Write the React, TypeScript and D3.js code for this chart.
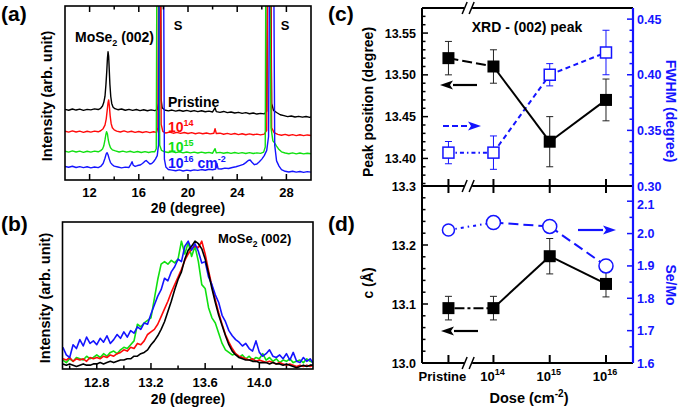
import React from "react";
import * as d3 from "d3";

const FONT = "'Liberation Sans', Arial, Helvetica, sans-serif";
const BLUE = "#1414ff";
const RED = "#ff0a0a";
const GREEN = "#10e010";
const BLACK = "#000";

// ---------- Panel (a): XRD spectra, [2theta, stacked intensity] ----------
const aMajorTicks = [12, 16, 20, 24, 28];
const aMinorTicks = [14, 18, 22, 26];

const specPristine: [number, number][] = [[10,40.6],[10.3,40.1],[10.6,40.8],[10.9,40.2],[11.2,40.7],[11.5,40.0],[11.8,40.6],[12.1,40.3],[12.4,40.9],[12.7,40.5],[12.9,41.2],[13.05,42.5],[13.15,44.5],[13.25,48],[13.33,55],[13.4,63],[13.45,70],[13.5,73.7],[13.55,71],[13.6,63],[13.65,55],[13.72,48],[13.8,44],[13.9,42],[14.05,41],[14.3,40.4],[14.6,40.8],[14.9,40.1],[15.2,40.6],[15.5,40.0],[15.8,40.5],[16.1,39.9],[16.4,40.4],[16.7,39.8],[17.0,40.3],[17.3,39.9],[17.5,40.5],[17.6,44],[17.65,150],[17.75,150],[17.82,46],[17.9,41.5],[18.1,40.2],[18.4,39.7],[18.7,40.2],[19.0,39.6],[19.3,40.1],[19.6,39.5],[19.9,40.0],[20.2,39.4],[20.5,39.9],[20.8,39.3],[21.1,39.8],[21.4,39.2],[21.7,39.6],[22.0,39.1],[22.2,41.5],[22.3,39.3],[22.6,38.9],[22.9,39.4],[23.2,38.7],[23.5,39.1],[23.8,38.5],[24.1,38.9],[24.4,38.3],[24.7,38.7],[25.0,38.1],[25.3,38.5],[25.6,37.9],[25.9,38.3],[26.2,38.0],[26.4,39.5],[26.5,150],[26.7,150],[26.8,44],[26.95,40],[27.2,38.8],[27.5,37.5],[27.8,37.0],[28.1,36.4],[28.4,36.8],[28.7,36.2],[29.0,36.6],[29.3,36.1],[29.6,36.5],[29.9,36.0],[30,36.3]];

const spec1e14: [number, number][] = [[10,28.0],[10.3,27.5],[10.6,28.2],[10.9,27.6],[11.2,28.1],[11.5,27.4],[11.8,28.0],[12.1,27.5],[12.4,28.1],[12.7,27.7],[12.9,28.3],[13.1,29.5],[13.25,31.5],[13.35,35],[13.43,40],[13.5,44.5],[13.55,46],[13.6,43],[13.67,37],[13.75,32.5],[13.85,30],[14.0,28.8],[14.2,28.1],[14.5,27.6],[14.8,28.2],[15.1,27.5],[15.4,28.0],[15.7,27.4],[16.0,27.9],[16.3,27.3],[16.6,27.8],[16.9,27.2],[17.2,27.7],[17.45,27.4],[17.55,30],[17.62,150],[17.75,150],[17.82,32],[17.95,28],[18.2,27.0],[18.5,27.5],[18.8,26.9],[19.1,27.4],[19.4,26.8],[19.7,27.3],[20.0,26.7],[20.3,27.2],[20.6,26.6],[20.9,27.1],[21.2,26.6],[21.5,27.0],[21.8,26.5],[22.1,26.9],[22.2,29.5],[22.3,26.7],[22.6,26.9],[22.9,26.3],[23.2,26.8],[23.5,26.2],[23.8,26.7],[24.1,26.1],[24.4,26.6],[24.7,26.0],[25.0,26.5],[25.3,26.0],[25.6,26.4],[25.9,25.9],[26.2,26.4],[26.4,28.5],[26.5,150],[26.7,150],[26.8,30],[27.0,27.2],[27.3,26.2],[27.6,25.7],[27.9,26.2],[28.2,25.6],[28.5,26.1],[28.8,25.5],[29.1,26.0],[29.4,25.5],[29.7,25.9],[30,25.6]];

const spec1e15: [number, number][] = [[10,16.5],[10.3,16.0],[10.6,16.7],[10.9,16.1],[11.2,16.6],[11.5,15.9],[11.8,16.5],[12.1,16.0],[12.4,16.6],[12.7,16.2],[12.9,16.9],[13.05,17.8],[13.15,19.5],[13.25,23],[13.32,26],[13.38,27.8],[13.45,26.5],[13.52,23],[13.6,20.5],[13.7,18.5],[13.85,17.3],[14.1,16.7],[14.4,16.1],[14.7,16.6],[15.0,16.0],[15.3,16.5],[15.6,15.9],[15.9,16.4],[16.2,15.8],[16.5,16.3],[16.8,15.8],[17.1,16.3],[17.3,16.2],[17.42,18],[17.48,150],[17.6,150],[17.7,20],[17.85,17],[18.1,16.2],[18.4,15.8],[18.7,16.3],[19.0,15.7],[19.3,16.2],[19.6,15.6],[19.9,16.1],[20.2,15.6],[20.5,16.0],[20.8,15.5],[21.1,16.0],[21.4,15.5],[21.7,15.9],[22.0,15.4],[22.2,18.0],[22.3,15.6],[22.6,15.9],[22.9,15.4],[23.2,15.8],[23.5,15.3],[23.8,15.8],[24.1,15.3],[24.4,15.7],[24.7,15.2],[25.0,15.7],[25.3,15.2],[25.6,15.6],[25.9,15.3],[26.15,16.0],[26.28,19],[26.34,150],[26.6,150],[26.75,30],[26.9,22.5],[27.05,21.2],[27.2,19.5],[27.4,17.5],[27.6,16.2],[27.9,15.5],[28.2,15.1],[28.5,15.6],[28.8,15.0],[29.1,15.5],[29.4,15.0],[29.7,15.4],[30,15.1]];

const spec1e16: [number, number][] = [[10,7.8],[10.3,7.3],[10.6,7.9],[10.9,7.2],[11.2,7.7],[11.5,7.1],[11.8,7.6],[12.1,7.0],[12.4,7.5],[12.7,7.1],[12.9,7.8],[13.1,9.5],[13.25,12.5],[13.35,15],[13.42,15.7],[13.5,14.5],[13.6,12],[13.7,10],[13.85,8.8],[14.0,8.0],[14.3,7.5],[14.6,7.0],[14.9,7.4],[15.2,7.2],[15.35,9],[15.45,10.5],[15.55,8.5],[15.7,7.8],[15.9,8.3],[16.1,8.6],[16.3,9.5],[16.5,10.8],[16.6,11.2],[16.75,10.2],[16.9,9.2],[17.05,9.5],[17.2,10.5],[17.35,12],[17.5,14],[17.6,20],[17.67,150],[18.0,150],[18.08,12],[18.2,7.5],[18.4,6.0],[18.7,5.7],[19.0,5.3],[19.3,5.8],[19.6,5.2],[19.9,5.7],[20.2,5.3],[20.5,5.8],[20.8,5.5],[21.1,6.0],[21.4,5.6],[21.7,6.2],[22.0,5.9],[22.25,6.3],[22.35,9.5],[22.45,6.4],[22.7,6.3],[23.0,6.8],[23.3,6.6],[23.6,7.2],[23.9,7.6],[24.2,8.3],[24.5,9.0],[24.7,10.0],[24.9,11.2],[25.05,11.5],[25.2,10.2],[25.4,8.8],[25.6,9.2],[25.8,10.5],[26.0,12],[26.2,14],[26.4,17],[26.55,25],[26.65,150],[26.95,150],[27.05,20],[27.2,11],[27.4,8],[27.6,6],[27.9,5.0],[28.2,4.6],[28.5,5.0],[28.8,4.5],[29.1,4.9],[29.4,4.4],[29.7,4.8],[30,4.5]];

// ---------- Panel (b): normalized (002) peak, 2theta grid 12.55 + 0.025 i ----------
const bStart = 12.55;
const bStep = 0.025;
const bMajorTicks = [12.8, 13.2, 13.6, 14.0];
const bMinorTicks = [12.6, 13.0, 13.4, 13.8, 14.2];
const bBlack = [0.04,0.03,0.04,0.03,0.02,0.03,0.04,0.03,0.03,0.04, 0.04,0.05,0.04,0.05,0.06,0.05,0.06,0.07,0.07,0.08, 0.08,0.10,0.10,0.12,0.13,0.15,0.19,0.22,0.26,0.31, 0.37,0.45,0.53,0.62,0.70,0.76,0.86,0.93,0.96,1.0, 0.98,0.94,0.86,0.75,0.63,0.52,0.42,0.34,0.26,0.19, 0.14,0.11,0.09,0.08,0.07,0.07,0.06,0.06,0.05,0.05, 0.05,0.04,0.05,0.04,0.04,0.03,0.04,0.03,0.02,0.01, 0.02,0.03,0.02,0.03,0.03];
const bRed = [0.08,0.07,0.09,0.06,0.08,0.07,0.08,0.06,0.09,0.08, 0.09,0.08,0.10,0.09,0.11,0.10,0.12,0.13,0.15,0.14, 0.17,0.16,0.20,0.19,0.22,0.27,0.29,0.31,0.35,0.41, 0.47,0.53,0.60,0.66,0.72,0.78,0.85,0.90,0.94,0.96, 0.95,1.0,0.90,0.77,0.65,0.54,0.44,0.35,0.27,0.21, 0.16,0.12,0.10,0.09,0.08,0.07,0.08,0.06,0.07,0.06, 0.05,0.06,0.05,0.04,0.05,0.04,0.03,0.04,0.03,0.02, 0.03,0.02,0.03,0.02,0.03];
const bGreen = [0.07,0.05,0.08,0.06,0.09,0.08,0.07,0.10,0.08,0.09, 0.11,0.09,0.12,0.10,0.13,0.14,0.12,0.15,0.17,0.16, 0.19,0.22,0.35,0.33,0.36,0.38,0.40,0.55,0.70,0.82, 0.84,0.82,0.85,0.83,0.86,1.0,0.90,0.99,0.88,0.96, 0.84,0.66,0.63,0.48,0.40,0.36,0.28,0.20,0.15,0.13, 0.11,0.12,0.09,0.11,0.08,0.10,0.07,0.09,0.08,0.12, 0.07,0.09,0.06,0.08,0.05,0.07,0.06,0.08,0.05,0.06, 0.07,0.05,0.08,0.06,0.05];
const bBlue = [0.17,0.11,0.09,0.19,0.16,0.23,0.18,0.25,0.20,0.22, 0.19,0.24,0.21,0.26,0.20,0.23,0.27,0.24,0.29,0.25, 0.30,0.28,0.33,0.31,0.36,0.35,0.43,0.50,0.57,0.62, 0.71,0.69,0.76,0.80,0.86,0.84,0.96,1.0,0.93,0.98, 0.92,0.83,0.84,0.72,0.66,0.58,0.52,0.42,0.37,0.30, 0.26,0.23,0.21,0.18,0.20,0.16,0.14,0.22,0.13,0.10, 0.12,0.15,0.10,0.09,0.11,0.08,0.12,0.07,0.13,0.06, 0.05,0.09,0.06,0.08,0.04];

// ---------- Panels (c), (d): dose dependence ----------
const doseLabels = ["Pristine", "14", "15", "16"]; // exponents for 10^x
const dosePos = [13.2, 14, 15, 16]; // log10(dose) axis position (Pristine placed before the break)
const peakPos = [13.52, 13.51, 13.42, 13.47];
const peakPosErr = [0.02, 0.02, 0.03, 0.025];
const fwhm = [0.33, 0.33, 0.40, 0.42];
const fwhmErr = [0.01, 0.015, 0.01, 0.02];
const cLattice = [13.093, 13.093, 13.181, 13.134];
const cLatticeErr = [0.02, 0.02, 0.03, 0.022];
const seMo = [2.011, 2.034, 2.022, 1.9];
const seMoErr = [0.012, 0.005, 0.005, 0.02];

const cLeftMajor = [13.40, 13.45, 13.50, 13.55];
const cRightMajor = [0.30, 0.35, 0.40, 0.45];
const dLeftMajor = [13.0, 13.1, 13.2, 13.3];
const dRightMajor = [1.6, 1.7, 1.8, 1.9, 2.0, 2.1];

// ---------- scales ----------
const axA = d3.scaleLinear().domain([10, 30]).range([65, 311]);
const ayA = d3.scaleLinear().domain([0, 100]).range([180, 6]);
const bx = d3.scaleLinear().domain([12.547, 14.396]).range([62.5, 313]);
const by = d3.scaleLinear().domain([0, 1.15]).range([369, 222]);
const dx = d3.scaleLinear().domain([12.73, 16.48]).range([422, 633]);
const cyL = d3.scaleLinear().domain([13.367, 13.58]).range([186, 8]);
const cyR = d3.scaleLinear().domain([0.30, 0.46]).range([186, 8]);
const dyL = d3.scaleLinear().domain([13.0, 13.3]).range([363, 186]);
const dyR = d3.scaleLinear().domain([1.6, 2.147]).range([363, 186]);

const lineA = d3.line<[number, number]>().x(d => axA(d[0])).y(d => ayA(d[1]));
const lineB = d3.line<number>().x((_, i) => bx(bStart + bStep * i)).y(d => by(d));

const bold = { fontFamily: FONT, fontWeight: 700 } as const;

function Break({ x, y }: { x: number; y: number }) {
  return (
    <g>
      <rect x={x - 4} y={y - 2} width={8} height={4} fill="#fff" />
      <line x1={x - 6} y1={y + 6} x2={x - 1} y2={y - 6} stroke={BLACK} strokeWidth={1.5} />
      <line x1={x + 1} y1={y + 6} x2={x + 6} y2={y - 6} stroke={BLACK} strokeWidth={1.5} />
    </g>
  );
}

function Arrow({ x1, x2, y, color, dash }: { x1: number; x2: number; y: number; color: string; dash?: string }) {
  const dir = Math.sign(x2 - x1);
  const tip = x2;
  const base = x2 - dir * 13;
  return (
    <g>
      <line x1={x1} y1={y} x2={base} y2={y} stroke={color} strokeWidth={2.2} strokeDasharray={dash} />
      <path d={`M${tip},${y} L${base},${y - 4.5} L${base + dir * 3},${y} L${base},${y + 4.5} Z`} fill={color} />
    </g>
  );
}

function ErrBars({ xs, ys, errs, sx, sy, color }: any) {
  return (
    <g stroke={color} strokeWidth={1}>
      {ys.map((v: number, i: number) => {
        const x = sx(xs[i]);
        const y1 = sy(v - errs[i]);
        const y2 = sy(v + errs[i]);
        return (
          <g key={i}>
            <line x1={x} x2={x} y1={y1} y2={y2} />
            <line x1={x - 3.5} x2={x + 3.5} y1={y1} y2={y1} />
            <line x1={x - 3.5} x2={x + 3.5} y1={y2} y2={y2} />
          </g>
        );
      })}
    </g>
  );
}

function Segments({ xs, ys, sx, sy, color, dashes }: any) {
  return (
    <g stroke={color} strokeWidth={2} fill="none">
      {ys.slice(0, -1).map((v: number, i: number) => (
        <line key={i} x1={sx(xs[i])} y1={sy(v)} x2={sx(xs[i + 1])} y2={sy(ys[i + 1])} strokeDasharray={dashes[i]} />
      ))}
    </g>
  );
}

function VTicks({ values, minor, scale, x, dir, color, len = 6, mlen = 3.5 }: any) {
  return (
    <g stroke={color} strokeWidth={1.5}>
      {values.map((v: number, i: number) => (
        <line key={"M" + i} x1={x} x2={x + dir * len} y1={scale(v)} y2={scale(v)} />
      ))}
      {minor.map((v: number, i: number) => (
        <line key={"m" + i} x1={x} x2={x + dir * mlen} y1={scale(v)} y2={scale(v)} />
      ))}
    </g>
  );
}

function range(a: number, b: number, s: number) {
  return d3.range(Math.round((b - a) / s) + 1).map(i => +(a + i * s).toFixed(4));
}

export default function App() {
  const cLeftMinor = range(13.37, 13.58, 0.01).filter(v => !cLeftMajor.some(m => Math.abs(m - v) < 1e-6));
  const cRightMinor = range(0.31, 0.46, 0.01).filter(v => !cRightMajor.some(m => Math.abs(m - v) < 1e-6));
  const dLeftMinor = range(13.02, 13.28, 0.02).filter(v => !dLeftMajor.some(m => Math.abs(m - v) < 1e-6));
  const dRightMinor = range(1.65, 2.1, 0.05).filter(v => !dRightMajor.some(m => Math.abs(m - v) < 1e-6));

  const aSeries: [[number, number][], string][] = [
    [specPristine, BLACK],
    [spec1e14, RED],
    [spec1e15, GREEN],
    [spec1e16, BLUE],
  ];
  const bSeries: [number[], string][] = [
    [bGreen, GREEN],
    [bRed, RED],
    [bBlue, BLUE],
    [bBlack, BLACK],
  ];

  const [ax0, ax1] = axA.range();
  const [ay1, ay0] = ayA.range();
  const [bx0, bx1] = bx.range();
  const [by1, by0] = by.range();
  const [px0, px1] = dx.range();
  const cTop = cyL.range()[1];
  const mid = cyL.range()[0];
  const dBot = dyL.range()[0];
  const breakX = dx(13.55);

  return (
    <svg width={685} height={409} style={{ position: "absolute", left: 0, top: 0, background: "#fff" }}>
      <defs>
        <clipPath id="clipA"><rect x={ax0} y={ay0} width={ax1 - ax0} height={ay1 - ay0} /></clipPath>
        <clipPath id="clipB"><rect x={bx0} y={by0} width={bx1 - bx0} height={by1 - by0} /></clipPath>
      </defs>

      {/* ================= (a) ================= */}
      <g clipPath="url(#clipA)">
        {aSeries.map(([d, c], i) => (
          <path key={i} d={lineA(d) || ""} fill="none" stroke={c} strokeWidth={1.4} strokeLinejoin="round" />
        ))}
      </g>
      <rect x={ax0} y={ay0} width={ax1 - ax0} height={ay1 - ay0} fill="none" stroke={BLACK} strokeWidth={1.6} />
      <g stroke={BLACK} strokeWidth={1.5}>
        {aMajorTicks.map(t => (
          <g key={t}>
            <line x1={axA(t)} x2={axA(t)} y1={ay1} y2={ay1 - 6} />
            <line x1={axA(t)} x2={axA(t)} y1={ay0} y2={ay0 + 6} />
          </g>
        ))}
        {aMinorTicks.map(t => (
          <g key={t}>
            <line x1={axA(t)} x2={axA(t)} y1={ay1} y2={ay1 - 3.5} />
            <line x1={axA(t)} x2={axA(t)} y1={ay0} y2={ay0 + 3.5} />
          </g>
        ))}
      </g>
      {aMajorTicks.map(t => (
        <text key={t} x={axA(t)} y={197} textAnchor="middle" fontSize={13} {...bold}>{t}</text>
      ))}
      <text x={188} y={213} textAnchor="middle" fontSize={14} {...bold}>2θ (degree)</text>
      <text transform="translate(52,96) rotate(-90)" textAnchor="middle" fontSize={14.5} {...bold}>Intensity (arb. unit)</text>
      <text x={1} y={21} fontSize={21} {...bold}>(a)</text>
      <text x={75} y={42} fontSize={14} {...bold}>MoSe<tspan dy={4} fontSize={9}>2</tspan><tspan dy={-4}> (002)</tspan></text>
      <text x={178} y={30} textAnchor="middle" fontSize={13} {...bold}>S</text>
      <text x={285} y={30} textAnchor="middle" fontSize={13} {...bold}>S</text>
      <text x={168} y={107} fontSize={14} {...bold}>Pristine</text>
      <text x={168} y={132} fontSize={14} fill={RED} {...bold}>10<tspan dy={-6} fontSize={9}>14</tspan></text>
      <text x={168} y={152} fontSize={14} fill={GREEN} {...bold}>10<tspan dy={-6} fontSize={9}>15</tspan></text>
      <text x={168} y={168} fontSize={14} fill={BLUE} {...bold}>10<tspan dy={-6} fontSize={9}>16</tspan><tspan dy={6}> cm</tspan><tspan dy={-6} fontSize={9}>-2</tspan></text>

      {/* ================= (b) ================= */}
      <g clipPath="url(#clipB)">
        {bSeries.map(([d, c], i) => (
          <path key={i} d={lineB(d) || ""} fill="none" stroke={c} strokeWidth={1.6} strokeLinejoin="round" />
        ))}
      </g>
      <rect x={bx0} y={by0} width={bx1 - bx0} height={by1 - by0} fill="none" stroke={BLACK} strokeWidth={1.6} />
      <g stroke={BLACK} strokeWidth={1.5}>
        {bMajorTicks.map(t => <line key={t} x1={bx(t)} x2={bx(t)} y1={by1} y2={by1 - 6} />)}
        {bMinorTicks.map(t => <line key={t} x1={bx(t)} x2={bx(t)} y1={by1} y2={by1 - 3.5} />)}
      </g>
      {bMajorTicks.map(t => (
        <text key={t} x={bx(t)} y={387} textAnchor="middle" fontSize={13} {...bold}>{t.toFixed(1)}</text>
      ))}
      <text x={188} y={404} textAnchor="middle" fontSize={14} {...bold}>2θ (degree)</text>
      <text transform="translate(50,298) rotate(-90)" textAnchor="middle" fontSize={14.5} {...bold}>Intensity (arb. unit)</text>
      <text x={1} y={231} fontSize={21} {...bold}>(b)</text>
      <text x={218} y={243} fontSize={13} {...bold}>MoSe<tspan dy={4} fontSize={8.5}>2</tspan><tspan dy={-4}> (002)</tspan></text>

      {/* ================= (c) / (d) frame ================= */}
      <text x={328} y={21} fontSize={21} {...bold}>(c)</text>
      <text x={328} y={231} fontSize={21} {...bold}>(d)</text>

      <VTicks values={cLeftMajor} minor={cLeftMinor} scale={cyL} x={px0} dir={1} color={BLACK} />
      <VTicks values={dLeftMajor} minor={dLeftMinor} scale={dyL} x={px0} dir={1} color={BLACK} />
      <VTicks values={cRightMajor} minor={cRightMinor} scale={cyR} x={px1} dir={-1} color={BLUE} />
      <VTicks values={dRightMajor} minor={dRightMinor} scale={dyR} x={px1} dir={-1} color={BLUE} />

      <line x1={px0} x2={px1} y1={cTop} y2={cTop} stroke={BLACK} strokeWidth={2} />
      <line x1={px0} x2={px1} y1={mid} y2={mid} stroke={BLACK} strokeWidth={2} />
      <line x1={px0} x2={px1} y1={dBot} y2={dBot} stroke={BLACK} strokeWidth={2} />
      <line x1={px0} x2={px0} y1={cTop} y2={dBot} stroke={BLACK} strokeWidth={2} />
      <line x1={px1} x2={px1} y1={cTop} y2={dBot} stroke={BLUE} strokeWidth={2.2} />
      <g stroke={BLACK} strokeWidth={2}>
        {dosePos.map((p, i) => (
          <g key={i}>
            <line x1={dx(p)} x2={dx(p)} y1={mid - 7} y2={mid + 7} />
            <line x1={dx(p)} x2={dx(p)} y1={dBot} y2={dBot - 8} />
          </g>
        ))}
      </g>
      <Break x={breakX} y={cTop} />
      <Break x={breakX} y={mid} />
      <Break x={breakX} y={dBot} />

      {cLeftMajor.map(v => (
        <text key={v} x={416} y={cyL(v)} dy="0.36em" textAnchor="end" fontSize={12.5} {...bold}>{v.toFixed(2)}</text>
      ))}
      {dLeftMajor.map(v => (
        <text key={v} x={416} y={dyL(v)} dy="0.36em" textAnchor="end" fontSize={12.5} {...bold}>{v.toFixed(1)}</text>
      ))}
      {cRightMajor.filter(v => v > 0.3).map(v => (
        <text key={v} x={637} y={cyR(v)} dy="0.36em" fontSize={12.5} fill={BLUE} {...bold}>{v.toFixed(2)}</text>
      ))}
      <text x={637} y={mid} dy="0.36em" fontSize={12.5} fill={BLUE} {...bold}>0.30</text>
      {dRightMajor.map(v => (
        <text key={v} x={637} y={dyR(v) + (v > 2.05 ? 3 : 0)} dy="0.36em" fontSize={12.5} fill={BLUE} {...bold}>{v.toFixed(1)}</text>
      ))}

      {doseLabels.map((l, i) =>
        i === 0 ? (
          <text key={i} x={dx(dosePos[i]) - 6} y={381} textAnchor="middle" fontSize={13} {...bold}>{l}</text>
        ) : (
          <text key={i} x={dx(dosePos[i]) - 1} y={381} textAnchor="middle" fontSize={13} {...bold}>10<tspan dy={-6} fontSize={9}>{l}</tspan></text>
        )
      )}
      <text x={529} y={403} textAnchor="middle" fontSize={14.5} {...bold}>Dose (cm<tspan dy={-6} fontSize={10}>-2</tspan><tspan dy={6}>)</tspan></text>

      <text transform="translate(373,102) rotate(-90)" textAnchor="middle" fontSize={14} {...bold}>Peak position (degree)</text>
      <text transform="translate(373,283) rotate(-90)" textAnchor="middle" fontSize={14} {...bold}>c (Å)</text>
      <text transform="translate(666,111) rotate(90)" textAnchor="middle" fontSize={14} fill={BLUE} {...bold}>FWHM (degree)</text>
      <text transform="translate(666,285) rotate(90)" textAnchor="middle" fontSize={14} fill={BLUE} {...bold}>Se/Mo</text>

      <text x={527} y={32} textAnchor="middle" fontSize={14} {...bold}>XRD - (002) peak</text>

      {/* ================= (c) data ================= */}
      <ErrBars xs={dosePos} ys={fwhm} errs={fwhmErr} sx={dx} sy={cyR} color={BLUE} />
      <ErrBars xs={dosePos} ys={peakPos} errs={peakPosErr} sx={dx} sy={cyL} color="#222" />
      <Segments xs={dosePos} ys={fwhm} sx={dx} sy={cyR} color={BLUE} dashes={["4,3,1.5,3", "5,3.5", "5,3.5"]} />
      <Segments xs={dosePos} ys={peakPos} sx={dx} sy={cyL} color={BLACK} dashes={["10,4", null, null]} />
      {fwhm.map((v, i) => (
        <rect key={i} x={dx(dosePos[i]) - 5.5} y={cyR(v) - 5.5} width={11} height={11} fill="#fff" stroke={BLUE} strokeWidth={1.5} />
      ))}
      {peakPos.map((v, i) => (
        <rect key={i} x={dx(dosePos[i]) - 6} y={cyL(v) - 6} width={12} height={12} fill={BLACK} />
      ))}
      <Arrow x1={477} x2={440} y={85} color={BLACK} />
      <Arrow x1={443} x2={481} y={126} color={BLUE} dash="6,3" />

      {/* ================= (d) data ================= */}
      <ErrBars xs={dosePos} ys={seMo} errs={seMoErr} sx={dx} sy={dyR} color={BLUE} />
      <ErrBars xs={dosePos} ys={cLattice} errs={cLatticeErr} sx={dx} sy={dyL} color="#222" />
      <Segments xs={dosePos} ys={seMo} sx={dx} sy={dyR} color={BLUE} dashes={["3,4,1.5,4", "10,5", "10,5"]} />
      <Segments xs={dosePos} ys={cLattice} sx={dx} sy={dyL} color={BLACK} dashes={["3,3,10,3", null, null]} />
      {seMo.map((v, i) => (
        <circle key={i} cx={dx(dosePos[i])} cy={dyR(v)} r={i === 0 ? 6 : 7} fill="#fff" stroke={BLUE} strokeWidth={1.5} />
      ))}
      {cLattice.map((v, i) => (
        <rect key={i} x={dx(dosePos[i]) - 6} y={dyL(v) - 6} width={12} height={12} fill={BLACK} />
      ))}
      <Arrow x1={578} x2={616} y={230} color={BLUE} />
      <Arrow x1={478} x2={441} y={331} color={BLACK} />
    </svg>
  );
}
